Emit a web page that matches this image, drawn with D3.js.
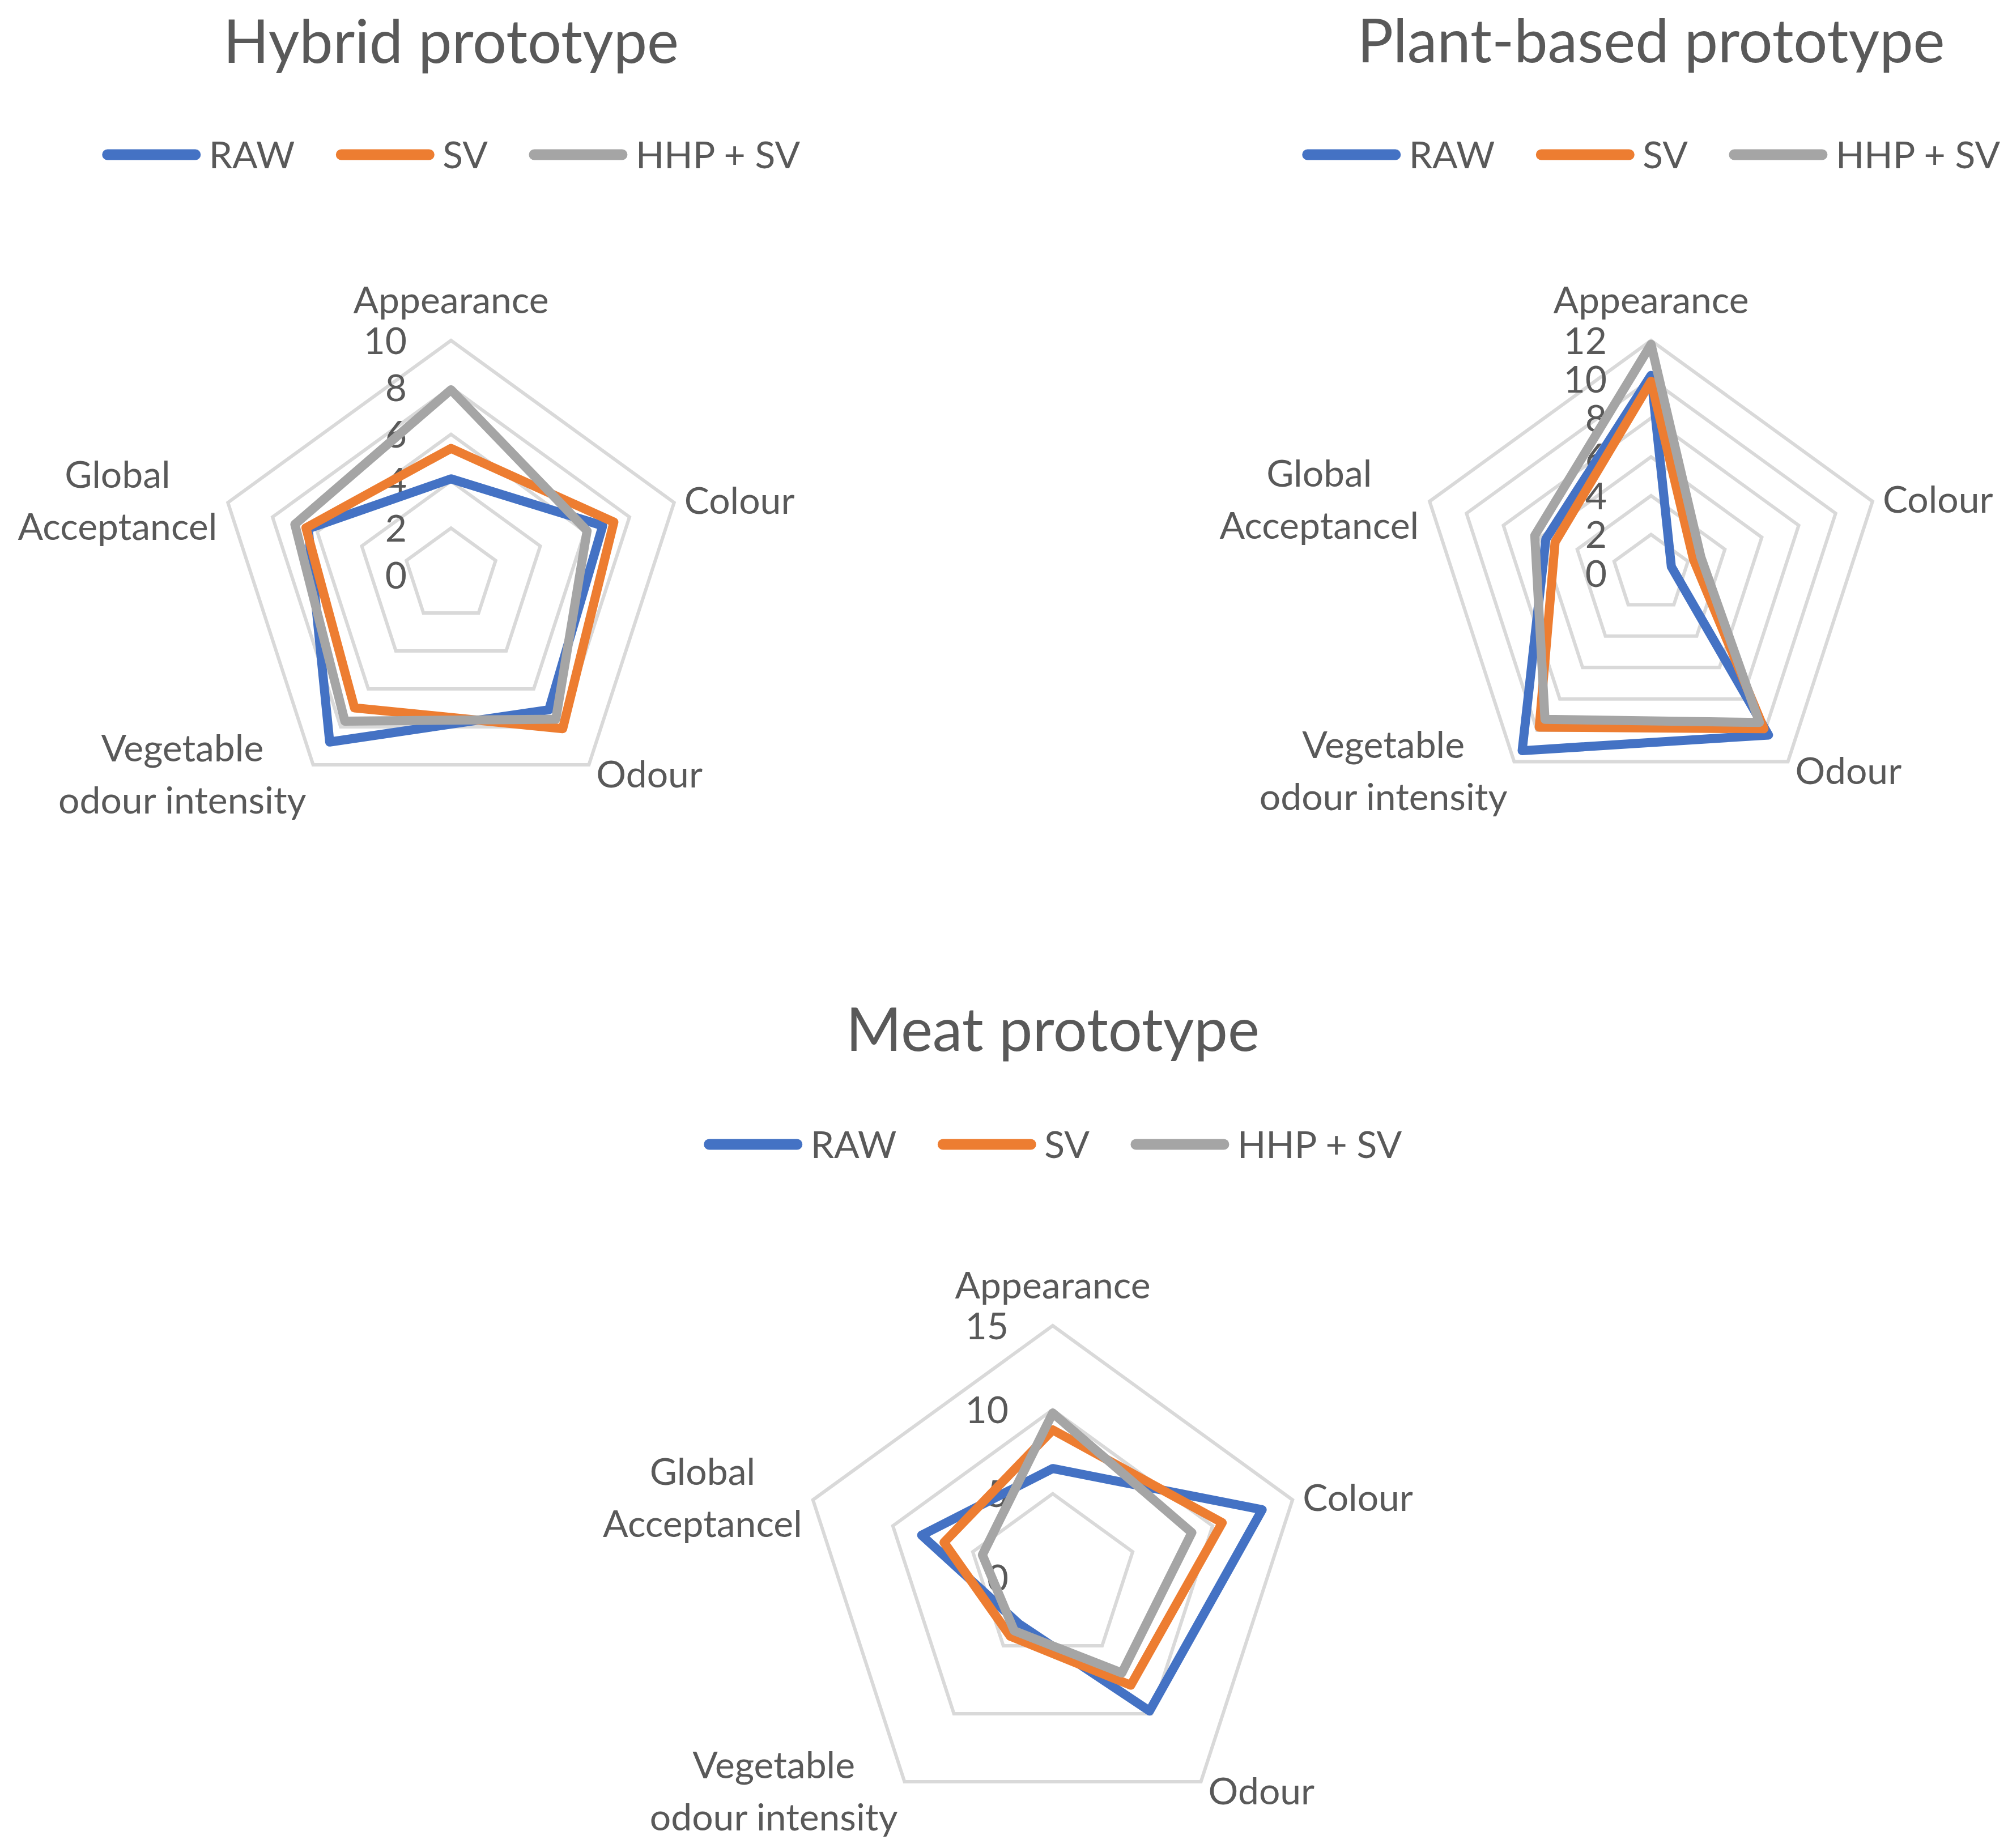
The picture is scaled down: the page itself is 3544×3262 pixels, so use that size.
<!DOCTYPE html>
<html>
<head>
<meta charset="utf-8">
<script src="https://cdn.jsdelivr.net/npm/d3@7"></script>
<style>
  html, body { margin: 0; padding: 0; background: #ffffff; }
  svg text { font-family: Lato, "Open Sans", sans-serif; fill: #595959; }
</style>
</head>
<body>
<svg id="chart" width="3544" height="3262"></svg>
<script>
// axis categories (one label per spoke, split on lines like the original)
const axisLabels = [["Appearance"], ["Colour"], ["Odour"], ["Vegetable", "odour intensity"], ["Global", "Acceptancel"]];
const seriesNames = ["RAW", "SV", "HHP + SV"];
const seriesColors = ["#4472C4", "#ED7D31", "#A5A5A5"];

// Hybrid prototype
const hybridTicks = [0, 2, 4, 6, 8, 10];
const hybridRaw = [4.1, 6.8, 7.1, 8.8, 6.4];
const hybridSv = [5.4, 7.3, 8.1, 7.0, 6.5];
const hybridHhp = [7.9, 6.1, 7.6, 7.7, 7.0];

// Plant-based prototype
const plantTicks = [0, 2, 4, 6, 8, 10, 12];
const plantRaw = [10.2, 1.1, 10.3, 11.3, 5.7];
const plantSv = [9.9, 2.3, 9.9, 9.8, 5.2];
const plantHhp = [11.8, 2.7, 9.5, 9.3, 6.3];

// Meat prototype
const meatTicks = [0, 5, 10, 15];
const meatRaw = [6.5, 13.1, 9.8, 3.4, 8.2];
const meatSv = [8.8, 10.6, 7.9, 4.3, 6.8];
const meatHhp = [9.8, 8.7, 7.0, 3.9, 4.4];

const charts = [
    {title: "Hybrid prototype", cx: 796, cy: 1015, r: 414, titleY: 111, legendY: 273,
        ticks: hybridTicks, values: [hybridRaw, hybridSv, hybridHhp]},
    {title: "Plant-based prototype", cx: 2914, cy: 1012, r: 411, titleY: 110, legendY: 273,
        ticks: plantTicks, values: [plantRaw, plantSv, plantHhp]},
    {title: "Meat prototype", cx: 1858, cy: 2785, r: 445, titleY: 1855, legendY: 2020,
        ticks: meatTicks, values: [meatRaw, meatSv, meatHhp]}
];

const svg = d3.select("#chart");
svg.append("rect").attr("width", 3544).attr("height", 3262).attr("fill", "#ffffff");

const labelSize = 66;
const lineGap = 92;

charts.forEach(c => {
    const g = svg.append("g");
    const rScale = d3.scaleLinear().domain([0, d3.max(c.ticks)]).range([0, c.r]);
    const angle = d3.scalePoint().domain(d3.range(axisLabels.length + 1)).range([0, 2 * Math.PI]);
    const radial = d3.lineRadial()
        .angle((d, i) => angle(i))
        .radius(d => rScale(d))
        .curve(d3.curveLinearClosed);

    // title
    g.append("text")
        .attr("x", c.cx).attr("y", c.titleY)
        .attr("text-anchor", "middle")
        .style("font-size", "106px")
        .text(c.title);

    // legend, centred on the chart
    const legend = g.append("g");
    const lineLen = 155, textGap = 14, itemGap = 72;
    let x = 0;
    seriesNames.forEach((name, i) => {
        const item = legend.append("g").attr("transform", `translate(${x},0)`);
        item.append("line")
            .attr("x1", 10).attr("x2", 10 + lineLen)
            .attr("y1", 0).attr("y2", 0)
            .attr("stroke", seriesColors[i])
            .attr("stroke-width", 19)
            .attr("stroke-linecap", "round");
        const t = item.append("text")
            .attr("x", lineLen + 20 + textGap).attr("y", 0)
            .attr("dy", "0.36em")
            .style("font-size", labelSize + "px")
            .text(name);
        x += lineLen + 20 + textGap + t.node().getComputedTextLength() + itemGap;
    });
    const legendW = x - itemGap;
    legend.attr("transform", `translate(${c.cx - legendW / 2},${c.legendY})`);

    const plot = g.append("g").attr("transform", `translate(${c.cx},${c.cy})`);

    // grid rings
    plot.selectAll(".ring")
        .data(c.ticks.filter(t => t > 0))
        .join("path")
        .attr("class", "ring")
        .attr("d", t => radial(axisLabels.map(() => t)))
        .attr("fill", "none")
        .attr("stroke", "#D9D9D9")
        .attr("stroke-width", 6);

    // tick labels along the top spoke
    plot.selectAll(".tick")
        .data(c.ticks)
        .join("text")
        .attr("class", "tick")
        .attr("x", -78)
        .attr("y", t => -rScale(t))
        .attr("dy", "0.36em")
        .attr("text-anchor", "end")
        .style("font-size", labelSize + "px")
        .text(t => t);

    // series
    plot.selectAll(".series")
        .data(c.values)
        .join("path")
        .attr("class", "series")
        .attr("d", v => radial(v))
        .attr("fill", "none")
        .attr("stroke", (v, i) => seriesColors[i])
        .attr("stroke-width", 16)
        .attr("stroke-linejoin", "round");

    // axis labels
    axisLabels.forEach((lines, i) => {
        const a = angle(i);
        const vx = Math.sin(a) * c.r, vy = -Math.cos(a) * c.r;
        const lab = plot.append("g");
        const texts = lines.map((s, k) => lab.append("text")
            .attr("text-anchor", "middle")
            .attr("y", (k - (lines.length - 1) / 2) * lineGap)
            .attr("dy", "0.36em")
            .style("font-size", labelSize + "px")
            .text(s));
        const w = d3.max(texts, t => t.node().getComputedTextLength());
        let lx, ly;
        if (i === 0) { lx = vx; ly = vy - 72; }
        else if (i === 1) { lx = vx + 18 + w / 2; ly = vy - 4; }
        else if (i === 2) { lx = vx + 13 + w / 2; ly = vy + 16; }
        else if (i === 3) { lx = vx - 12 - w / 2; ly = vy + 16; }
        else { lx = vx - 19 - w / 2; ly = vy - 4; }
        lab.attr("transform", `translate(${lx},${ly})`);
    });
});
</script>
</body>
</html>
